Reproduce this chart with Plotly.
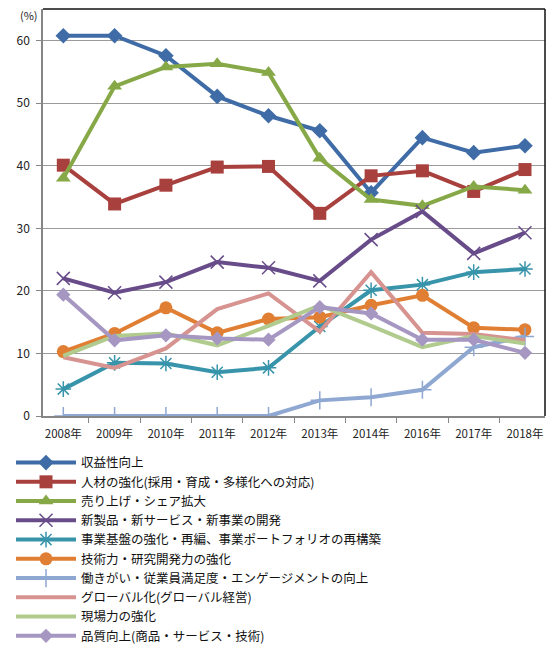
import plotly.graph_objects as go

years = ["2008年", "2009年", "2010年", "2011年", "2012年", "2013年", "2014年", "2016年", "2017年", "2018年"]

names = [
    "収益性向上",
    "人材の強化(採用・育成・多様化への対応)",
    "売り上げ・シェア拡大",
    "新製品・新サービス・新事業の開発",
    "事業基盤の強化・再編、事業ポートフォリオの再構築",
    "技術力・研究開発力の強化",
    "働きがい・従業員満足度・エンゲージメントの向上",
    "グローバル化(グローバル経営)",
    "現場力の強化",
    "品質向上(商品・サービス・技術)",
]

profit = [60.8, 60.8, 57.6, 51.1, 48.0, 45.6, 35.7, 44.5, 42.1, 43.2]
talent = [40.1, 33.9, 36.9, 39.8, 39.9, 32.4, 38.4, 39.2, 35.9, 39.4]
sales = [38.0, 52.7, 55.8, 56.3, 54.9, 41.2, 34.6, 33.6, 36.7, 36.1]
newbiz = [22.0, 19.7, 21.4, 24.6, 23.7, 21.6, 28.2, 32.7, 26.0, 29.3]
restructure = [4.3, 8.5, 8.4, 7.0, 7.7, 14.3, 20.1, 21.0, 23.0, 23.5]
tech = [10.3, 13.2, 17.3, 13.3, 15.5, 15.8, 17.7, 19.3, 14.1, 13.8]
engagement = [0.0, 0.0, 0.0, 0.0, 0.0, 2.5, 3.0, 4.2, 11.0, 12.7]
globalization = [9.4, 7.7, 10.8, 17.1, 19.6, 13.5, 23.0, 13.3, 13.1, 12.1]
field = [9.6, 12.8, 13.2, 11.3, 14.4, 17.7, 14.4, 11.0, 12.8, 11.6]
quality = [19.4, 12.1, 12.9, 12.4, 12.2, 17.4, 16.4, 12.2, 12.2, 10.1]

series = [profit, talent, sales, newbiz, restructure, tech, engagement, globalization, field, quality]
colors = ["#3F6CA6", "#A8403E", "#86A847", "#684C8A", "#3794AA", "#E07F33",
          "#8EA8D2", "#D69390", "#B0CB8D", "#A597C2"]
symbols = ["diamond", "square", "triangle-up", "x-thin", "asterisk-open", "circle",
           "cross-thin", None, None, "diamond"]
sizes = [12, 13, 13, 13, 13, 13, 13, 0, 0, 11]

fig = go.Figure()
for nm, vals, c, s, sz in zip(names, series, colors, symbols, sizes):
    if s is None:
        fig.add_trace(go.Scatter(x=years, y=vals, name=nm, mode="lines",
                                 line=dict(color=c, width=4)))
    else:
        mk = dict(symbol=s, size=sz, color=c)
        if s in ("x-thin", "asterisk-open", "cross-thin"):
            mk["line"] = dict(color=c, width=1.5)
        fig.add_trace(go.Scatter(x=years, y=vals, name=nm, mode="lines+markers",
                                 line=dict(color=c, width=4), marker=mk))

font_jp = "Noto Sans CJK JP"
fig.update_layout(
    width=550, height=645,
    margin=dict(l=43, r=5, t=9, b=229, autoexpand=False),
    paper_bgcolor="white", plot_bgcolor="white",
    font=dict(family=font_jp, color="#222222", size=11),
    showlegend=True,
    legend=dict(
        xref="container", yref="container",
        x=0.02, y=0.3055, xanchor="left", yanchor="top",
        font=dict(family=font_jp, size=12.5, color="#111111"),
        tracegroupgap=0, itemwidth=60,
        bgcolor="rgba(0,0,0,0)",
    ),
    xaxis=dict(
        type="category", range=[-0.396, 9.39], tickangle=0,
        showgrid=False, showline=True, linecolor="#868686", linewidth=1.5,
        ticks="outside", tickson="boundaries", ticklen=5, tickcolor="#868686",
        tickfont=dict(family=font_jp, size=11.5, color="#222222"),
        ticklabelstandoff=6,
        mirror=False, zeroline=False, fixedrange=True,
    ),
    yaxis=dict(
        range=[0, 65.07], tickvals=[0, 10, 20, 30, 40, 50, 60],
        showgrid=True, gridcolor="#9A9A9A", gridwidth=1,
        showline=True, linecolor="#868686", linewidth=1.5,
        ticks="outside", ticklen=5, tickcolor="#868686",
        tickfont=dict(family=font_jp, size=12, color="#222222"),
        ticklabelstandoff=4,
        zeroline=False, fixedrange=True,
    ),
    shapes=[
        dict(type="line", xref="paper", yref="paper", x0=0, x1=1, y0=1, y1=1,
             line=dict(color="#111111", width=1.5)),
        dict(type="line", xref="paper", yref="paper", x0=1, x1=1, y0=0, y1=1,
             line=dict(color="#111111", width=1.5)),
    ],
    annotations=[
        dict(text="(%)", xref="paper", yref="paper", x=-0.006, y=0.985,
             xanchor="right", yanchor="middle", showarrow=False,
             font=dict(family=font_jp, size=11, color="#222222")),
    ],
)

fig.write_html("out.html")
